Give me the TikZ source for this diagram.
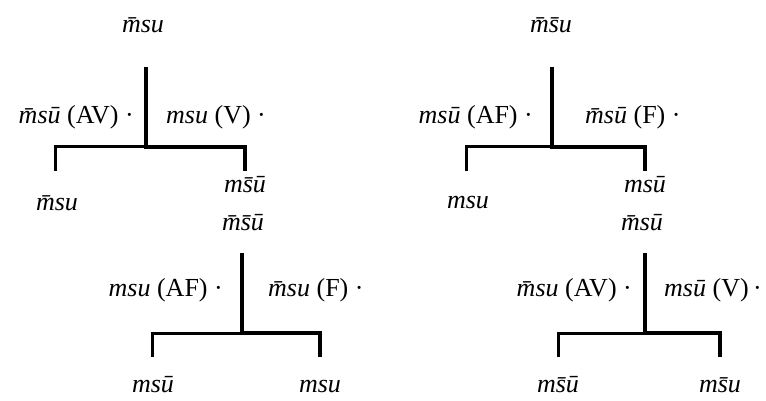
\documentclass[tikz,border=0pt]{standalone}
\usepackage{fontspec}
\setmainfont{Liberation Serif}
\usepackage{tikz}

\begin{document}
\begin{tikzpicture}[
    x=1pt,y=-1pt,
    heavy/.style={line width=4.6pt},
    light/.style={line width=3pt},
    every node/.style={inner sep=0pt, font=\fontsize{26}{30}\selectfont}
    ]
    \useasboundingbox (0, 0) rectangle (766, 401);
    % upper left tree
    \node (r1) at (143, 25) {\textit{\=msu}};
    \coordinate (t1) at (146, 67);
    \coordinate (j1) at (146, 147);
    \coordinate (a1) at (55, 171);
    \coordinate (b1) at (245, 171);
    \draw[heavy] (t1) -- (j1) -| (b1);
    \draw[light] (j1) -| (a1);
    \node[anchor=east] (l1) at (134, 117) {\textit{\=ms\=u} (AV) ·};
    \node[anchor=west] (m1) at (166, 117) {\textit{msu} (V) ·};
    \node (p1) at (57, 203) {\textit{\=msu}};
    \node (q1) at (245, 185) {\textit{m\=s\=u}};
    % upper right tree
    \node (r2) at (551, 25) {\textit{\=m\=su}};
    \coordinate (t2) at (552, 67);
    \coordinate (j2) at (552, 147);
    \coordinate (a2) at (466, 171);
    \coordinate (b2) at (645, 171);
    \draw[heavy] (t2) -- (j2) -| (b2);
    \draw[light] (j2) -| (a2);
    \node[anchor=east] (l2) at (533, 117) {\textit{ms\=u} (AF) ·};
    \node[anchor=west] (m2) at (585, 117) {\textit{\=ms\=u} (F) ·};
    \node (p2) at (468, 203) {\textit{msu}};
    \node (q2) at (645, 185) {\textit{ms\=u}};
    % lower left tree
    \node (r3) at (243, 223) {\textit{\=m\=s\=u}};
    \coordinate (t3) at (242, 253);
    \coordinate (j3) at (242, 333);
    \coordinate (a3) at (152, 357);
    \coordinate (b3) at (320, 357);
    \draw[heavy] (t3) -- (j3) -| (b3);
    \draw[light] (j3) -| (a3);
    \node[anchor=east] (l3) at (223, 290) {\textit{msu} (AF) ·};
    \node[anchor=west] (m3) at (268, 290) {\textit{\=msu} (F) ·};
    \node (p3) at (153, 385) {\textit{ms\=u}};
    \node (q3) at (320, 387) {\textit{msu}};
    % lower right tree
    \node (r4) at (642, 223) {\textit{\=ms\=u}};
    \coordinate (t4) at (645, 253);
    \coordinate (j4) at (645, 333);
    \coordinate (a4) at (558, 357);
    \coordinate (b4) at (720, 357);
    \draw[heavy] (t4) -- (j4) -| (b4);
    \draw[light] (j4) -| (a4);
    \node[anchor=east] (l4) at (632, 290) {\textit{\=msu} (AV) ·};
    \node[anchor=west] (m4) at (664, 290) {\textit{ms\=u} (V)\,·};
    \node (p4) at (558, 385) {\textit{m\=s\=u}};
    \node (q4) at (720, 385) {\textit{m\=su}};
  \end{tikzpicture}
\end{document}
